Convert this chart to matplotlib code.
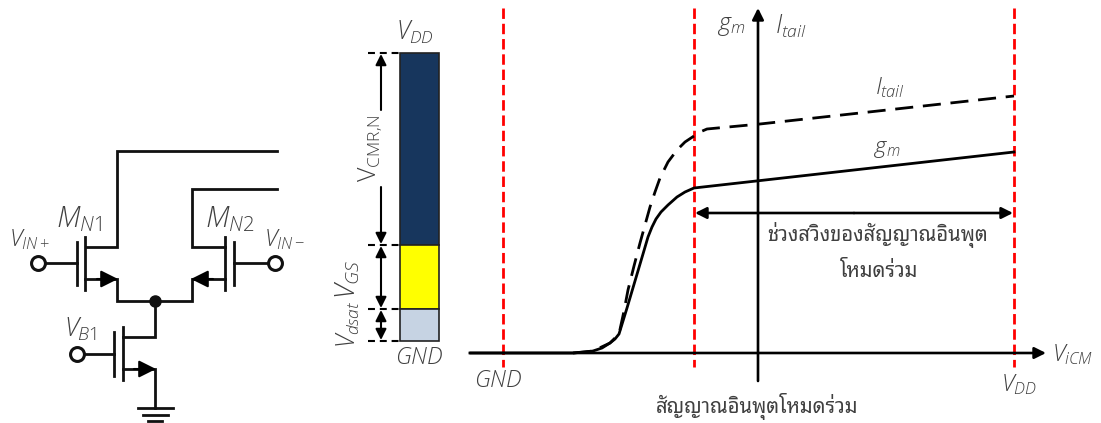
# -*- coding: utf-8 -*-
import matplotlib
matplotlib.use('Agg')
import matplotlib.pyplot as plt

# ---------------------------- data (pixel coordinates) ----------------------------

solid_x = [470, 573, 585, 593, 602, 610, 615, 619, 623, 627, 635, 643, 648, 652, 656, 661, 668, 677, 685, 694, 1014]
solid_y = [353, 353, 352, 351, 348, 343, 339, 334, 321, 308, 281, 254, 237, 227, 219, 212, 205, 197, 192, 188, 152]

dash_x = [573, 593, 610, 619, 624, 628, 634, 640, 645, 650, 655, 660, 668, 677, 685, 694, 700, 707, 760, 1014]
dash_y = [353, 351, 343, 334, 311, 290, 266, 243, 225, 207, 192, 178, 162, 150, 142, 136, 132, 129, 124, 96]

stack_names = ['VCMR', 'VGS', 'Vdsat']
stack_tops = [53, 245, 309]
stack_bottoms = [245, 309, 341]
stack_colors = ['#17365D', '#FFFF00', '#C6D3E3']

red_lines = [503, 694, 1014]

# circuit wires, each one is (xs, ys)
wires = [
    ([277, 117, 117, 86], [151, 151, 247, 247]),        # MN1 drain
    ([277, 192, 192, 225], [189, 189, 247, 247]),       # MN2 drain
    ([85, 117, 117, 192, 192, 225], [279, 279, 301, 301, 279, 279]),  # sources
    ([155, 155, 123], [301, 337, 337]),                 # tail drain
    ([123, 155, 155], [369, 369, 408]),                 # tail source
    ([44, 77], [263, 263]),
    ([234, 269], [263, 263]),
    ([83, 114], [354, 354]),
    ([85, 85], [237, 290]),                             # channels
    ([225, 225], [237, 290]),
    ([123, 123], [327, 380]),
    ([77, 77], [242, 285]),                             # gates
    ([234, 234], [242, 285]),
    ([114, 114], [332, 376]),
    ([138, 173], [408, 408]),                           # ground
    ([143, 168], [415, 415]),
    ([148, 162], [421, 421]),
]
source_arrows = [(97, 279, 118, 279), (213, 279, 191, 279), (134, 369, 156, 369)]
inputs = [(38, 263), (275, 263), (77, 354)]

thai_range_1 = 'ช่วงสวิงของสัญญาณอินพุต'
thai_range_2 = 'โหมดร่วม'
thai_xlabel = 'สัญญาณอินพุตโหมดร่วม'

# ---------------------------- figure ----------------------------

plt.rcParams['lines.scale_dashes'] = False
plt.rcParams['mathtext.fontset'] = 'custom'
plt.rcParams['mathtext.it'] = 'Open Sans:italic:light'
plt.rcParams['mathtext.rm'] = 'Open Sans:light'
plt.rcParams['font.family'] = ['Open Sans', 'DejaVu Sans']

thai_fonts = ['Noto Sans Thai Looped', 'IBM Plex Sans Thai Looped', 'Sarabun', 'FreeSerif', 'DejaVu Sans']
text_color = '#404040'

fig = plt.figure(figsize=(11.01, 4.23), dpi=100)
ax = fig.add_axes([0, 0, 1, 1])
ax.set_xlim(0, 1101)
ax.set_ylim(423, 0)
ax.axis('off')


def arrow(x0, y0, x1, y1, size=13, lw=2.0, style='-|>', color='black'):
    ax.annotate('', xy=(x1, y1), xytext=(x0, y0),
                arrowprops=dict(arrowstyle=style, mutation_scale=size, lw=lw, color=color,
                                shrinkA=0, shrinkB=0))


def label(x, y, s, size=17, **kw):
    ax.text(x, y, s, fontsize=size, color=text_color, ha='center', va='center', **kw)


# circuit
for xs, ys in wires:
    ax.plot(xs, ys, color='#111111', lw=2.0, solid_capstyle='projecting', solid_joinstyle='miter')
for x0, y0, x1, y1 in source_arrows:
    arrow(x0, y0, x1, y1, size=26, lw=1.5)
ax.plot([155], [301], 'o', color='#111111', ms=8)
for x, y in inputs:
    ax.plot([x], [y], 'o', mfc='white', mec='#111111', mew=2.2, ms=10)

label(79, 219, r'$M_{\mathit{N1}}$', size=21)
label(230, 219, r'$M_{\mathit{N2}}$', size=21)
label(29, 240, r'$V_{\mathit{IN+}}$', size=17)
label(284, 240, r'$V_{\mathit{IN-}}$', size=17)
label(80, 329, r'$V_{\mathit{B1}}$', size=19)

# stack bar
ax.bar([419.5] * 3, [b - t for t, b in zip(stack_tops, stack_bottoms)], width=39, bottom=stack_tops,
       color=stack_colors, edgecolor='#222222', linewidth=1.2, zorder=3)
for y in [53, 245, 309, 341]:
    ax.plot([368, 400], [y, y], color='black', lw=1.5, linestyle=(0, (5, 3.5)))
arrow(381, 110, 381, 54, size=16, lw=1.5)
arrow(381, 187, 381, 244, size=16, lw=1.5)
arrow(381, 276, 381, 246, size=16, lw=1.5)
arrow(381, 276, 381, 308, size=16, lw=1.5)
arrow(381, 325, 381, 310, size=16, lw=1.5)
arrow(381, 325, 381, 340, size=16, lw=1.5)
label(371, 148, r'$\mathrm{V}_{\mathrm{CMR}{,}\mathrm{N}}$', size=18, rotation=90)
label(348, 279, r'$V_{GS}$', size=20, rotation=90)
label(348, 324, r'$V_{dsat}$', size=18, rotation=90)
label(415, 32, r'$V_{DD}$', size=18)
label(419, 358, r'$GND$', size=17)

# transfer curves
for x in red_lines:
    ax.plot([x, x], [8, 367], color='#FF0000', lw=2.0, linestyle=(0, (7.5, 3.5)), zorder=2)
arrow(470, 353, 1046, 353, size=17, lw=1.9)
arrow(758, 381, 758, 8, size=17, lw=1.9)
ax.plot(solid_x, solid_y, color='black', lw=2.0, zorder=4)
ax.plot(dash_x, dash_y, color='black', lw=2.0, linestyle=(0, (13, 7)), zorder=4)
arrow(854, 213, 695, 213, size=17, lw=1.9)
arrow(854, 213, 1013, 213, size=17, lw=1.9)

label(731, 26, r'$g_m$', size=17)
label(791, 26, r'$I_{tail}$', size=18)
label(890, 88, r'$I_{tail}$', size=17)
label(887, 149, r'$g_m$', size=16)
label(1073, 355, r'$V_{iCM}$', size=17)
label(498, 381, r'$GND$', size=17)
label(1019, 385, r'$V_{DD}$', size=17)

label(878, 235, thai_range_1, size=14.5, family=thai_fonts)
label(879, 272, thai_range_2, size=14.5, family=thai_fonts)
label(757, 407, thai_xlabel, size=14.5, family=thai_fonts)

fig.savefig('out.png', dpi=100)
